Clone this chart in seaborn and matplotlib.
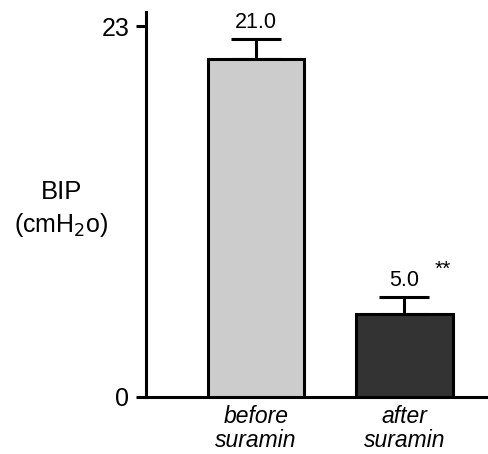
import matplotlib
matplotlib.use('Agg')

import matplotlib.pyplot as plt
import seaborn as sns
import pandas as pd

conditions = ['before\nsuramin', 'after\nsuramin']
bip_mean = [21.0, 5.15]
bip_sem = [1.25, 1.05]
value_labels = ['21.0', '5.0']
bar_colors = ['#cccccc', '#333333']

sns.set_style('ticks')
plt.rcParams['font.family'] = ['Liberation Sans', 'DejaVu Sans']
plt.rcParams['text.color'] = 'black'
plt.rcParams['xtick.color'] = 'black'
plt.rcParams['ytick.color'] = 'black'

df = pd.DataFrame({'condition': conditions, 'bip': bip_mean})

fig = plt.figure(figsize=(4.89, 4.54), dpi=100)
ax = fig.add_axes([0.2986, 0.1256, 0.7014, 0.848])

sns.barplot(data=df, x='condition', y='bip', hue='condition',
            palette=bar_colors, width=0.65, edgecolor='black',
            linewidth=2.2, legend=False, ax=ax, zorder=3)

ax.errorbar(range(len(conditions)), bip_mean,
            yerr=[[0] * len(bip_sem), bip_sem], fmt='none',
            ecolor='black', elinewidth=2.2, capsize=18, capthick=2.2,
            zorder=2)

for i, (m, s, lab) in enumerate(zip(bip_mean, bip_sem, value_labels)):
    ax.text(i, m + s + 0.35, lab, ha='center', va='bottom', fontsize=15.5)
ax.text(1.26, 7.9, '**', ha='center', va='center', fontsize=15)

ax.set_ylim(0, 23.9)
ax.set_xlim(-0.74, 1.57)
ax.set_yticks([0, 23])
ax.set_yticklabels(['0', '23'], fontsize=18)
ax.tick_params(axis='y', length=7, width=2.2, pad=5)
ax.tick_params(axis='x', length=0, pad=6)
ax.set_xticks(range(len(conditions)))
ax.set_xticklabels(conditions, fontsize=16.5, style='italic', linespacing=1.05)
ax.set_xlabel('')
ax.set_ylabel('')

for side in ['top', 'right']:
    ax.spines[side].set_visible(False)
for side in ['left', 'bottom']:
    ax.spines[side].set_linewidth(2.2)
    ax.spines[side].set_color('black')

fig.text(0.125, 0.577, 'BIP', ha='center', va='center', fontsize=18.5)
fig.text(0.125, 0.504, '(cmH$_2$o)', ha='center', va='center', fontsize=18)

plt.savefig('out.png', dpi=100)
